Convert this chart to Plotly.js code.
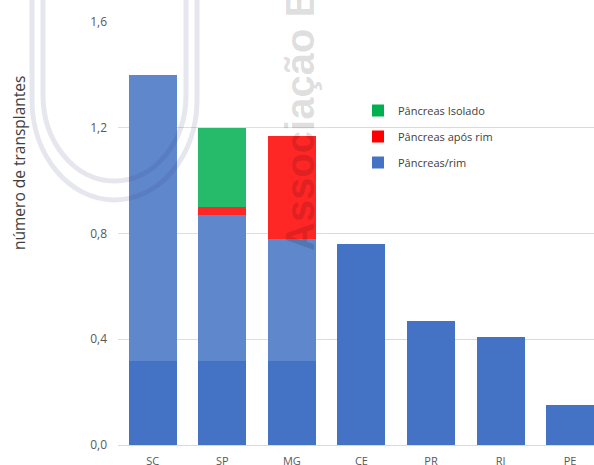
<!DOCTYPE html>
<html>
<head>
<meta charset="utf-8">
<script src="https://cdn.plot.ly/plotly-3.0.1.min.js"></script>
<style>html,body{margin:0;padding:0;background:#fff;}#chart{width:594px;height:465px;}</style>
</head>
<body>
<div id="chart"></div>
<script>
const categories = ['SC', 'SP', 'MG', 'CE', 'PR', 'RJ', 'PE'];
const pancreasRim = [1.40, 0.87, 0.78, 0.76, 0.47, 0.41, 0.15];
const pancreasAposRim = [0, 0.03, 0.39, 0, 0, 0, 0];
const pancreasIsolado = [0, 0.30, 0, 0, 0, 0, 0];
const seriesNames = ['Pâncreas/rim', 'Pâncreas após rim', 'Pâncreas Isolado'];
const seriesColors = ['#4472c4', '#ff0000', '#00b050'];
const legendRanks = [3, 2, 1];
const yTicks = [0, 0.4, 0.8, 1.2, 1.6];

const W = 594, H = 465, ML = 118, MR = 0, MT = 22, MB = 20;
const PW = W - ML - MR, PH = H - MT - MB;
const px = x => (x - ML) / PW;
const py = y => (H - MB - y) / PH;

// U-shaped watermark ring path (pixel inputs -> paper coords)
function ringPath(L, R, yTop, ym, yb) {
  const k = 0.5523, rx = (R - L) / 2, cx = (L + R) / 2, h = yb - ym;
  const P = (x, y) => px(x).toFixed(5) + ',' + py(y).toFixed(5);
  return 'M' + P(L, yTop) + ' L' + P(L, ym) +
    ' C' + P(L, ym + k * h) + ' ' + P(cx - k * rx, yb) + ' ' + P(cx, yb) +
    ' C' + P(cx + k * rx, yb) + ' ' + P(R, ym + k * h) + ' ' + P(R, ym) +
    ' L' + P(R, yTop);
}

const series = [pancreasRim, pancreasAposRim, pancreasIsolado];
const traces = series.map((vals, i) => ({
  type: 'bar',
  name: seriesNames[i],
  x: categories,
  y: vals,
  marker: {color: seriesColors[i], line: {width: 0}},
  legendgroup: 'g' + i,
  legendrank: legendRanks[i],
  hoverinfo: 'x+y+name'
}));

const ringStyle = {color: 'rgba(60,60,130,0.13)', width: 5};

const layout = {
  width: W, height: H,
  margin: {l: ML, r: MR, t: MT, b: MB, pad: 0},
  paper_bgcolor: '#ffffff',
  plot_bgcolor: '#ffffff',
  barmode: 'stack',
  bargap: 0.31,
  separators: ',.',
  font: {family: 'Open Sans, sans-serif', color: '#595959'},
  xaxis: {
    type: 'category',
    range: [-0.5, 6.344],
    showgrid: false,
    showline: false,
    ticks: '',
    tickfont: {size: 11, color: '#595959'},
    ticklabelstandoff: 8,
    fixedrange: true
  },
  yaxis: {
    range: [0, 1.6],
    tickvals: yTicks,
    tickformat: '.1f',
    showgrid: true,
    gridcolor: '#d9d9d9',
    gridwidth: 1,
    zeroline: true,
    zerolinecolor: '#d9d9d9',
    zerolinewidth: 1,
    showline: false,
    ticks: '',
    tickfont: {size: 12, color: '#595959'},
    ticklabelstandoff: 10,
    fixedrange: true
  },
  showlegend: true,
  legend: {
    x: px(358), y: py(96), xanchor: 'left', yanchor: 'top',
    traceorder: 'grouped',
    tracegroupgap: 7,
    bgcolor: 'rgba(0,0,0,0)',
    font: {size: 11, color: '#404040'}
  },
  shapes: [
    {type: 'rect', xref: 'paper', yref: 'paper', x0: 0, x1: px(327), y0: py(361), y1: 1,
     fillcolor: 'rgba(255,255,255,0.15)', line: {width: 0}, layer: 'above'},
    {type: 'path', xref: 'paper', yref: 'paper', path: ringPath(32, 197, -10, 100, 200),
     line: ringStyle, layer: 'above'},
    {type: 'path', xref: 'paper', yref: 'paper', path: ringPath(43, 186, -10, 95, 181),
     line: ringStyle, layer: 'above'}
  ],
  annotations: [
    {text: 'número de transplantes', xref: 'paper', yref: 'paper', x: px(19), y: py(163),
     xanchor: 'center', yanchor: 'middle', textangle: -90, showarrow: false,
     font: {family: 'Open Sans, sans-serif', size: 15.5, color: '#404040'}},
    {text: 'Associação B', xref: 'paper', yref: 'paper', x: px(300), y: py(120),
     xanchor: 'center', yanchor: 'middle', textangle: -90, showarrow: false,
     font: {family: 'Liberation Sans, Arial, sans-serif', size: 40, color: 'rgba(0,0,0,0.14)', weight: 'bold'}}
  ]
};

Plotly.newPlot('chart', traces, layout, {displayModeBar: false, staticPlot: true});
</script>
</body>
</html>
